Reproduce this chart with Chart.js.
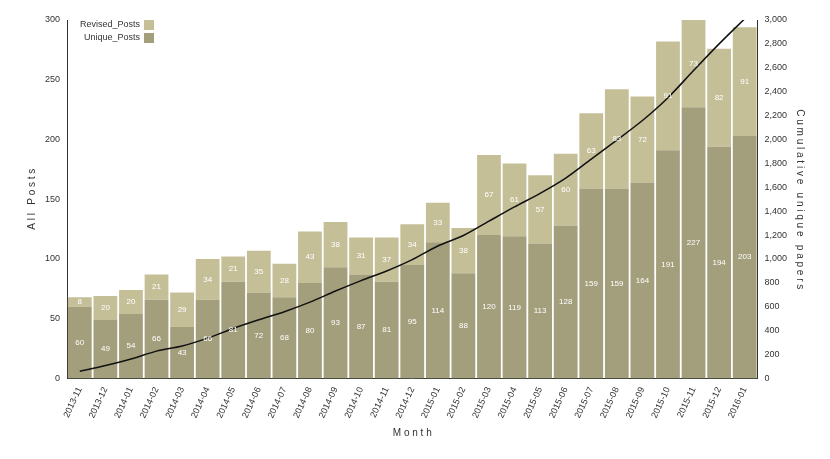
<!DOCTYPE html>
<html><head><meta charset="utf-8">
<script src="https://cdn.jsdelivr.net/npm/chart.js@4"></script>
<style>
body{margin:0;background:#fff;font-family:Arial,"Liberation Sans",sans-serif}
#w{position:relative;width:830px;height:459px}
#lg{position:absolute;left:80px;top:18px;font-size:9px;color:#333;text-align:right;line-height:13px}
#lg span{display:inline-block;width:10px;height:10px;vertical-align:middle;margin-left:4px}
</style></head><body>
<div id="w"><canvas id="c" width="830" height="459"></canvas>
<div id="lg"><div>Revised_Posts<span style="background:#c5bf98"></span></div><div>Unique_Posts<span style="background:#a39f7c"></span></div></div></div>
<script>
const months=["2013-11","2013-12","2014-01","2014-02","2014-03","2014-04","2014-05","2014-06","2014-07","2014-08","2014-09","2014-10","2014-11","2014-12","2015-01","2015-02","2015-03","2015-04","2015-05","2015-06","2015-07","2015-08","2015-09","2015-10","2015-11","2015-12","2016-01"];
const uniquePosts=[60,49,54,66,43,66,81,72,68,80,93,87,81,95,114,88,120,119,113,128,159,159,164,191,227,194,203];
const revisedPosts=[8,20,20,21,29,34,21,35,28,43,38,31,37,34,33,38,67,61,57,60,63,83,72,91,73,82,91];
const cumulative=[60,109,163,229,272,338,419,491,559,639,732,819,900,995,1109,1197,1317,1436,1549,1677,1836,1995,2159,2350,2577,2800,3010];
const labelPlugin={id:'lbl',afterDatasetsDraw(ch){const ctx=ch.ctx;ctx.save();ctx.fillStyle='#fff';ctx.font='8px Arial';ctx.textAlign='center';ctx.textBaseline='middle';
[1,2].forEach(di=>{const m=ch.getDatasetMeta(di);m.data.forEach((b,i)=>{const y=(b.y+b.base)/2;ctx.fillText(ch.data.datasets[di].data[i],b.x,y);});});ctx.restore();}};
new Chart(document.getElementById('c'),{
data:{labels:months,datasets:[
{type:'line',data:cumulative,yAxisID:'y2',borderColor:'#111',borderWidth:1.5,pointRadius:0,tension:0.3,order:0},
{type:'bar',label:'Unique_Posts',data:uniquePosts,backgroundColor:'#a39f7c',stack:'s',barPercentage:1,categoryPercentage:0.93,order:1},
{type:'bar',label:'Revised_Posts',data:revisedPosts,backgroundColor:'#c5bf98',stack:'s',barPercentage:1,categoryPercentage:0.93,order:1}]},
options:{responsive:false,animation:false,layout:{padding:{left:22,right:20,top:20,bottom:16}},
plugins:{legend:{display:false},tooltip:{enabled:false}},
scales:{
x:{stacked:true,grid:{display:false,drawTicks:true,tickLength:4},border:{color:'#333'},ticks:{color:'#333',font:{size:9},maxRotation:65,minRotation:65,autoSkip:false},title:{display:true,text:'M o n t h',color:'#333',font:{size:10}}},
y:{stacked:true,min:0,max:300,position:'left',grid:{display:false,tickLength:4},border:{color:'#333'},ticks:{stepSize:50,color:'#333',font:{size:9}},title:{display:true,text:'A l l   P o s t s',color:'#333',font:{size:10}}},
y2:{min:0,max:3000,position:'right',grid:{display:false,tickLength:4},border:{color:'#333'},ticks:{stepSize:200,color:'#333',font:{size:9},callback:v=>v.toLocaleString('en-US')},title:{display:true,text:'C u m u l a t i v e   u n i q u e   p a p e r s',color:'#333',font:{size:10}}}}},
plugins:[labelPlugin]});
</script></body></html>
